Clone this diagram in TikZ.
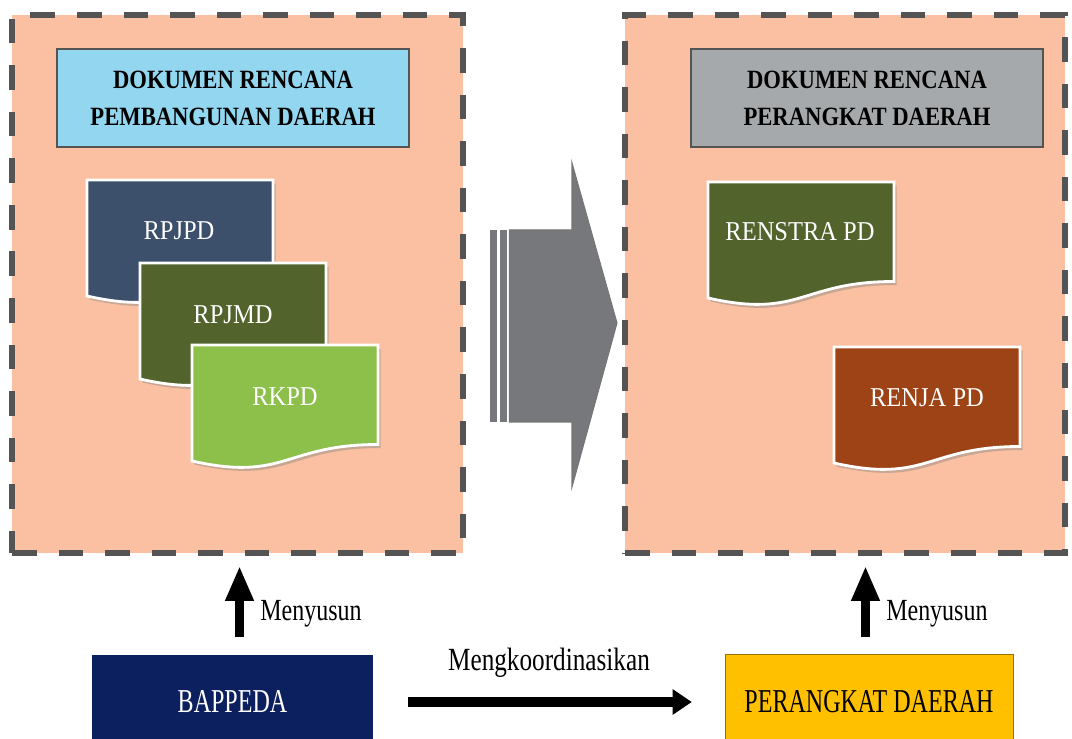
\documentclass[tikz,border=0pt]{standalone}
\usepackage{fontspec}
\setmainfont{Liberation Serif}
\newfontfamily\headfont[FakeStretch=0.86]{Liberation Serif}
\newfontfamily\docfont[FakeStretch=0.9]{Liberation Serif}
\newfontfamily\narrowfont[FakeStretch=0.78]{Liberation Serif}
\newfontfamily\boxfont[FakeStretch=0.72]{Liberation Serif}
\usetikzlibrary{arrows.meta,shadows}

\definecolor{peach}{RGB}{250,192,161}
\definecolor{dashgray}{RGB}{84,84,84}
\definecolor{skyblue}{RGB}{146,214,240}
\definecolor{headgray}{RGB}{166,169,171}
\definecolor{slate}{RGB}{60,79,107}
\definecolor{moss}{RGB}{82,99,44}
\definecolor{leaf}{RGB}{140,192,75}
\definecolor{rust}{RGB}{157,67,21}
\definecolor{arrowgray}{RGB}{119,120,123}
\definecolor{navy}{RGB}{12,32,96}
\definecolor{amber}{RGB}{255,192,0}

\begin{document}
\begin{tikzpicture}
[x=0.02cm,y=-0.02cm,
 group/.style={draw=dashgray,line width=3.2pt,dash pattern=on 14pt off 12.5pt,fill=peach,inner sep=0pt},
 header/.style={draw=dashgray,line width=0.8pt,minimum width=7.04cm,minimum height=1.96cm,align=center,
   font=\headfont\bfseries\fontsize{15}{21}\selectfont},
 docshape/.style={draw=white,line width=1.6pt,drop shadow={opacity=0.4,shadow xshift=1.5pt,shadow yshift=-2pt}},
 doctext/.style={text=white,font=\docfont\fontsize{15.5}{18}\selectfont},
 actor/.style={minimum width=5.62cm,minimum height=1.9cm,font=\boxfont\fontsize{19}{22}\selectfont},
 up/.style={line width=5pt,-{Triangle[width=15pt,length=20pt]},shorten <=9.6pt,shorten >=5.7pt},
 verb/.style={font=\narrowfont\fontsize{17.5}{20}\selectfont}]
\useasboundingbox (0,0) rectangle (1072,739);

\node[group,minimum width=9.02cm,minimum height=10.76cm] (lbox) at (237.5,284) {};
\node[group,minimum width=8.8cm,minimum height=10.76cm] (rbox) at (845,284) {};

\node[header,fill=skyblue] (lhead) at (233,98) {DOKUMEN RENCANA\\PEMBANGUNAN DAERAH};
\node[header,fill=headgray] (rhead) at (867,98) {DOKUMEN RENCANA\\PERANGKAT DAERAH};

% documents
\foreach \x/\y/\c in {87/180/slate,140/263/moss,192/345/leaf,708/182/moss,834/347/rust}
\draw[docshape,fill=\c] (\x,\y) -- (\x+186,\y) -- (\x+186,\y+99.5)
  .. controls (\x+93,\y+99.5) and (\x+93,\y+137) .. (\x,\y+116) -- cycle;

\node[doctext] (rpjpd) at (179,231) {RPJPD};
\node[doctext] (rpjmd) at (233,315) {RPJMD};
\node[doctext] (rkpd) at (285,397) {RKPD};
\node[doctext] (renstra) at (800,232) {RENSTRA PD};
\node[doctext] (renja) at (927,398) {RENJA PD};

% big arrow
\fill[arrowgray] (490,230) rectangle (497,422);
\fill[arrowgray] (499.5,230) rectangle (507,422);
\draw[draw=dashgray!80,fill=arrowgray,line width=0.6pt] (509.5,230) -- (572,230) -- (572,163)
  -- (617,323) -- (572,487) -- (572,422) -- (509.5,422) -- cycle;

\node[actor,fill=navy,text=white] (bappeda) at (232.5,702) {BAPPEDA};
\node[actor,fill=amber,draw=amber!60!black,minimum width=5.76cm] (pd) at (869,702) {PERANGKAT DAERAH};

\draw[up] ([xshift=4pt]bappeda.north) -- ([xshift=4pt]bappeda.north |- lbox.south)
  node[verb,pos=0.34,anchor=base west,xshift=6pt] {Menyusun};
\draw[up] ([xshift=-2pt]pd.north) -- ([xshift=-2pt]pd.north |- rbox.south)
  node[verb,pos=0.34,anchor=base west,xshift=6pt] {Menyusun};
\draw[line width=5.7pt,-{Triangle[width=14pt,length=11pt]},shorten <=20pt,shorten >=18.7pt]
  (bappeda.east) -- (pd.west) node[verb,midway,above=8pt,font=\narrowfont\fontsize{18.4}{20}\selectfont] {Mengkoordinasikan};
\end{tikzpicture}
\end{document}
